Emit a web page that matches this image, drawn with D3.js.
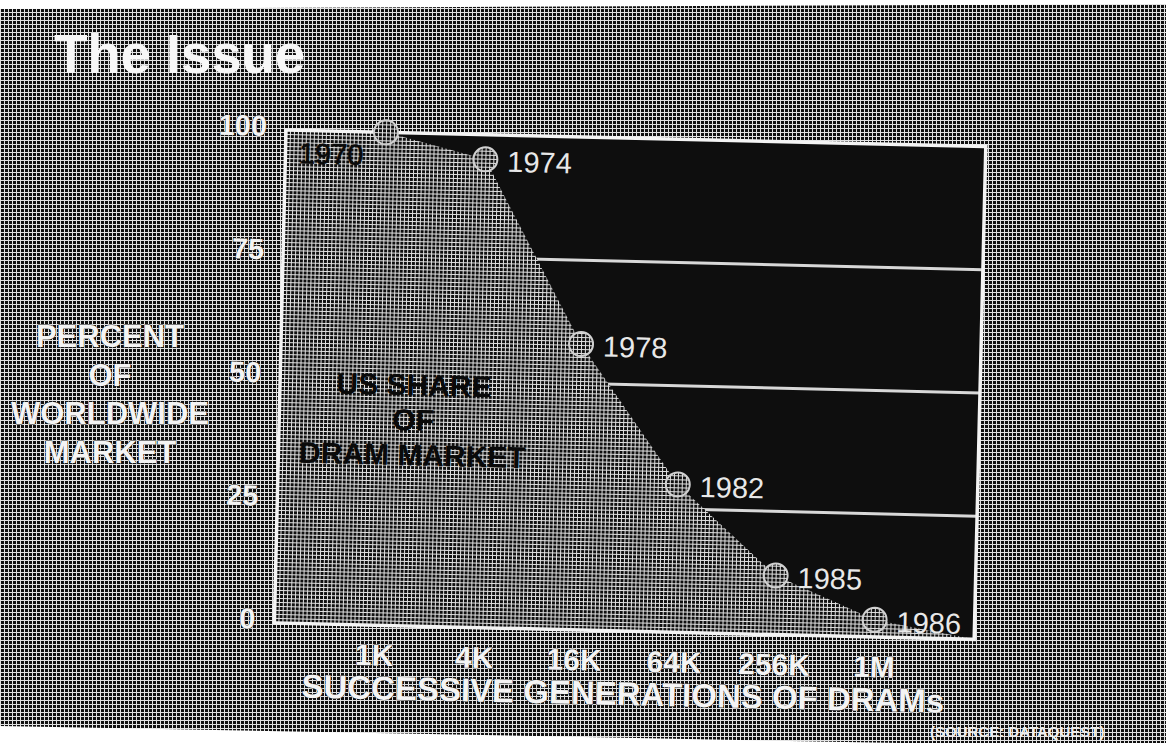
<!DOCTYPE html>
<html>
<head>
<meta charset="utf-8">
<title>The Issue</title>
<script src="https://cdn.jsdelivr.net/npm/d3@7"></script>
<style>
    body { margin: 0; background: #fff; }
    #chart-area { width: 1166px; height: 743px; }
    text { font-family: "Liberation Sans", Arial, Helvetica, sans-serif; }
</style>
</head>
<body>
<div id="chart-area"></div>
<script>

// successive DRAM generations (x axis)
let generations = ["1K", "4K", "16K", "64K", "256K", "1M"];
// year each generation came out
let years = [1970, 1974, 1978, 1982, 1985, 1986];
// US share of the worldwide DRAM market, percent
let usShare = [100, 95, 58, 30, 12, 3.5];

let yTicks = [0, 25, 50, 75, 100];
let gridValues = [25, 50, 75];
let yTitleLines = ["PERCENT", "OF", "WORLDWIDE", "MARKET"];
let shareLabelLines = ["US SHARE", "OF", "DRAM MARKET"];


class DramShare {

    constructor(parentElement, generations, years, share) {
        this.parentElement = parentElement;
        this.generations = generations;
        this.years = years;
        this.share = share;
        this.displayData = [];

        this.initVis();
    }

    initVis() {
        let vis = this;

        vis.svgWidth = 1166;
        vis.svgHeight = 743;

        // plot frame, slightly tilted like the photographed slide
        vis.origin = {x: 286, y: 130};
        vis.tilt = 1.35;
        vis.width = 700;
        vis.height = 493;

        vis.svg = d3.select("#" + vis.parentElement).append("svg")
            .attr("width", vis.svgWidth)
            .attr("height", vis.svgHeight);

        // halftone look of the printed grey
        let pattern = vis.svg.append("defs").append("pattern")
            .attr("id", "halftone")
            .attr("width", 4)
            .attr("height", 4)
            .attr("patternUnits", "userSpaceOnUse");
        pattern.append("rect").attr("width", 4).attr("height", 4).attr("fill", "#101010");
        pattern.append("rect").attr("width", 4).attr("height", 1).attr("fill", "#e2e2e2");
        pattern.append("rect").attr("width", 1).attr("height", 4).attr("fill", "#e2e2e2");

        // the photo itself
        vis.svg.append("polygon")
            .attr("points", [[0, 9], [vis.svgWidth, 4], [vis.svgWidth, 748], [0, 726]].join(" "))
            .attr("fill", "url(#halftone)");

        vis.plot = vis.svg.append("g")
            .attr("transform", `translate(${vis.origin.x}, ${vis.origin.y}) rotate(${vis.tilt})`);

        vis.x = d3.scalePoint()
            .domain(vis.generations)
            .range([0, vis.width])
            .padding(1);

        vis.y = d3.scaleLinear()
            .domain([0, 100])
            .range([vis.height, 0]);

        vis.wrangleData();
    }

    wrangleData() {
        let vis = this;

        vis.displayData = vis.generations.map((g, i) => {
            return {gen: g, year: vis.years[i], share: vis.share[i]};
        });

        // outline of the US share region, closed on the frame edges
        vis.areaData = [{px: vis.x.range()[0], share: vis.share[0]}]
            .concat(vis.displayData.map(d => ({px: vis.x(d.gen), share: d.share})))
            .concat([{px: vis.x.range()[1], share: vis.y.domain()[0]}]);

        vis.updateVis();
    }

    updateVis() {
        let vis = this;

        // rest of the market in black
        vis.plot.append("rect")
            .attr("width", vis.width)
            .attr("height", vis.height)
            .attr("fill", "#0e0e0e");

        vis.plot.selectAll(".grid")
            .data(gridValues)
            .join("line")
            .attr("class", "grid")
            .attr("x1", 0)
            .attr("x2", vis.width)
            .attr("y1", d => vis.y(d))
            .attr("y2", d => vis.y(d))
            .attr("stroke", "#d8d8d8")
            .attr("stroke-width", 3);

        let area = d3.area()
            .x(d => d.px)
            .y0(vis.y(0))
            .y1(d => vis.y(d.share));

        vis.plot.append("path")
            .datum(vis.areaData)
            .attr("d", area)
            .attr("fill", "url(#halftone)");

        vis.plot.append("rect")
            .attr("width", vis.width)
            .attr("height", vis.height)
            .attr("fill", "none")
            .attr("stroke", "#f4f4f4")
            .attr("stroke-width", 3.5);

        // y axis
        let yAxis = vis.plot.append("g")
            .attr("class", "y-axis")
            .call(d3.axisLeft(vis.y).tickValues(yTicks).tickSize(0).tickPadding(19));
        yAxis.select(".domain").remove();
        yAxis.selectAll("text")
            .attr("dy", "0.2em")
            .attr("font-size", 29)
            .attr("font-weight", "bold")
            .attr("fill", "#f4f4f4")
            .attr("stroke", "#1a1a1a")
            .attr("stroke-width", 0.8)
            .attr("paint-order", "stroke");

        // x axis
        let xAxis = vis.plot.append("g")
            .attr("class", "x-axis")
            .attr("transform", `translate(0, ${vis.height})`)
            .call(d3.axisBottom(vis.x).tickSize(0).tickPadding(19));
        xAxis.select(".domain").remove();
        xAxis.selectAll("text")
            .attr("font-size", 30)
            .attr("font-weight", "bold")
            .attr("fill", "#f4f4f4")
            .attr("stroke", "#1a1a1a")
            .attr("stroke-width", 0.8)
            .attr("paint-order", "stroke");

        vis.plot.append("text")
            .attr("x", vis.width / 2)
            .attr("y", vis.height + 74)
            .attr("text-anchor", "middle")
            .attr("font-size", 33)
            .attr("font-weight", "bold")
            .attr("fill", "#f4f4f4")
            .attr("stroke", "#1a1a1a")
            .attr("stroke-width", 0.8)
            .attr("paint-order", "stroke")
            .text("SUCCESSIVE GENERATIONS OF DRAMs");

        // markers
        vis.plot.selectAll(".marker")
            .data(vis.displayData)
            .join("circle")
            .attr("class", "marker")
            .attr("cx", d => vis.x(d.gen))
            .attr("cy", d => vis.y(d.share))
            .attr("r", 12)
            .attr("fill", "url(#halftone)")
            .attr("stroke", "#d0d0d0")
            .attr("stroke-width", 2);

        // year labels: the first one sits left of its marker
        vis.plot.selectAll(".year")
            .data(vis.displayData)
            .join("text")
            .attr("class", "year")
            .attr("x", (d, i) => i === 0 ? vis.x(d.gen) - 22 : vis.x(d.gen) + 22)
            .attr("y", (d, i) => i === 0 ? vis.y(d.share) + 33 : vis.y(d.share) + 12)
            .attr("text-anchor", (d, i) => i === 0 ? "end" : "start")
            .attr("font-size", 29)
            .attr("fill", (d, i) => i === 0 ? "#0a0a0a" : "#e8e8e8")
            .attr("stroke", (d, i) => i === 0 ? "#0a0a0a" : "none")
            .attr("stroke-width", 0.6)
            .text(d => d.year);

        vis.plot.selectAll(".share-label")
            .data(shareLabelLines)
            .join("text")
            .attr("class", "share-label")
            .attr("x", 134)
            .attr("y", (d, i) => vis.y(49) + 11 + i * 35)
            .attr("text-anchor", "middle")
            .attr("font-size", 30)
            .attr("font-weight", "bold")
            .attr("fill", "#0a0a0a")
            .text(d => d);

        // outside the frame
        vis.svg.selectAll(".y-title")
            .data(yTitleLines)
            .join("text")
            .attr("class", "y-title")
            .attr("x", 110)
            .attr("y", (d, i) => 347 + i * 38.5)
            .attr("text-anchor", "middle")
            .attr("font-size", 31)
            .attr("font-weight", "bold")
            .attr("fill", "#f4f4f4")
            .attr("stroke", "#1a1a1a")
            .attr("stroke-width", 0.8)
            .attr("paint-order", "stroke")
            .text(d => d);

        vis.svg.append("text")
            .attr("x", 54)
            .attr("y", 73)
            .attr("font-size", 55)
            .attr("font-weight", "bold")
            .attr("letter-spacing", -0.3)
            .attr("fill", "#f7f7f7")
            .text("The Issue");

        vis.svg.append("text")
            .attr("x", 930)
            .attr("y", 737)
            .attr("font-size", 15)
            .attr("font-weight", "bold")
            .attr("fill", "#eee")
            .text("(SOURCE: DATAQUEST)");
    }
}

new DramShare("chart-area", generations, years, usShare);

</script>
</body>
</html>
